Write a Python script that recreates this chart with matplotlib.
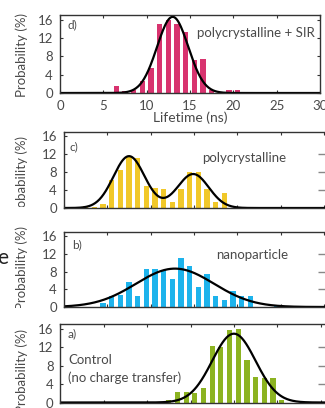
import numpy as np
import matplotlib.pyplot as plt

plt.rcParams['font.family'] = ['Lato', 'DejaVu Sans']

W, H = 325, 408          # figure size in pixels
PX_PER_NS = 8.67         # x scale shared by all panels

# d) polycrystalline + SIR
d_lifetime = [6.5, 7.5, 8.5, 9.5, 10.5, 11.5, 12.5, 13.5, 14.5, 15.5, 16.5, 17.5, 18.5, 19.5, 20.5]
d_prob = [1.5, 0.5, 0.6, 2.6, 5.5, 15.0, 16.0, 15.0, 13.2, 7.3, 7.4, 0.7, 0.3, 0.6, 0.6]
d_fit = [(16.6, 13.0, 1.8)]          # (amplitude, centre, sigma)

# c) polycrystalline
c_lifetime = [2.5, 3.5, 4.5, 5.5, 6.5, 7.5, 8.5, 9.5, 10.5, 11.5, 12.5, 13.5, 14.5, 15.5, 16.5, 17.5, 18.5]
c_prob = [0.5, 0.3, 0.9, 6.3, 8.6, 11.3, 11.1, 5.0, 4.4, 4.3, 1.3, 4.3, 8.1, 8.1, 4.3, 1.3, 3.3]
c_fit = [(11.6, 7.5, 1.8), (7.6, 14.9, 1.8)]

# b) nanoparticle
b_lifetime = [4.5, 5.5, 6.5, 7.5, 8.5, 9.5, 10.5, 11.5, 12.5, 13.5, 14.5, 15.5, 16.5,
              17.5, 18.5, 19.5, 20.5, 21.5, 22.5, 23.5, 24.5]
b_prob = [0.9, 2.4, 2.8, 5.6, 2.6, 8.6, 8.6, 8.4, 6.3, 11.2, 9.3, 4.5, 7.5,
          2.5, 1.5, 3.6, 2.5, 2.5, 0.0, 0.0, 0.5]
b_fit = [(8.7, 12.8, 4.5)]

# a) control
a_lifetime = [12.5, 13.5, 14.5, 15.5, 16.5, 17.5, 18.5, 19.5, 20.5, 21.5, 22.5, 23.5, 24.5, 25.5]
a_prob = [0.5, 2.2, 2.2, 2.0, 3.1, 12.2, 12.0, 15.8, 16.0, 9.1, 5.5, 5.4, 5.4, 0.6]
a_fit = [(14.9, 20.0, 2.5)]

yticks = [0, 4, 8, 12, 16]
xticks = [0, 5, 10, 15, 20, 25, 30]

fig = plt.figure(figsize=(W / 100, H / 100), dpi=100)


def px_box(l, t, r, b):
    return [l / W, 1 - b / H, (r - l) / W, (b - t) / H]


def ftext(x, y, s, **kw):
    kw.setdefault('fontsize', 9.5)
    kw.setdefault('color', '#4a4a4a')
    kw.setdefault('va', 'center')
    return fig.text(x / W, 1 - y / H, s, **kw)


def panel(box, lifetime, prob, fit, color, label_y, clip_y=None, last=False):
    ax = fig.add_axes(px_box(*box))
    ax.bar(lifetime, prob, width=0.6, color=color, linewidth=0)
    xs = np.linspace(0, 32, 400)
    ys = np.zeros_like(xs)
    for amp, mu, sig in fit:
        ys += amp * np.exp(-(xs - mu) ** 2 / (2 * sig ** 2))
    ax.plot(xs, ys, color='black', lw=1.6)
    ax.set_xlim(0, (box[2] - box[0]) / PX_PER_NS)
    ax.set_ylim(0, 17)
    ax.set_yticks(yticks)
    ax.set_xticks(xticks)
    ax.tick_params(direction='in', length=2.5, width=0.8, color='#333333',
                   labelsize=9.5, labelcolor='#4a4a4a', pad=5,
                   top=True, right=True, labelbottom=last)
    for s in ax.spines.values():
        s.set_color('#333333')
        s.set_linewidth(1.0)
    # y label placed as a figure text so that it can be clipped like the original crop
    lab = ftext(22, label_y, 'Probability (%)', fontsize=9.5, rotation=90, ha='center')
    if clip_y is not None:
        clip_ax = fig.add_axes([0, 1 - clip_y / H, 1, clip_y / H])
        clip_ax.set_axis_off()
        lab.set_clip_on(True)
        lab.set_clip_box(clip_ax.bbox)
    if last:
        ax.set_xlabel('Lifetime (ns)', fontsize=10, color='#4a4a4a', labelpad=0)
    return ax


ax_d = panel((60, 15, 320, 93), d_lifetime, d_prob, d_fit, '#d8336f', 55, last=True)
ax_c = panel((64, 132, 330, 208), c_lifetime, c_prob, c_fit, '#f1c829', 178, clip_y=207)
ax_b = panel((64, 232, 330, 307), b_lifetime, b_prob, b_fit, '#1db3ec', 268, clip_y=308)
ax_a = panel((60.5, 324, 330, 402.5), a_lifetime, a_prob, a_fit, '#8cb321', 371)

# faint ticks of the neighbouring panel on the right
for ax in (ax_c, ax_b, ax_a):
    tw = ax.twinx()
    tw.set_ylim(0, 17)
    tw.set_yticks([4, 8, 12])
    tw.tick_params(direction='in', length=9, width=1.0, color='#888888', labelright=False)
    for s in tw.spines.values():
        s.set_visible(False)

ftext(68, 25, 'd)', fontsize=8.5)
ftext(315, 33, 'polycrystalline + SIR', ha='right')
ftext(70, 147, 'c)', fontsize=8.5)
ftext(202, 158, 'polycrystalline')
ftext(72, 245, 'b)', fontsize=8.5)
ftext(216, 255, 'nanoparticle')
ftext(68, 334, 'a)', fontsize=8.5)
ftext(68, 360, 'Control')
ftext(68, 378, '(no charge transfer)')
ftext(-3, 258, 'e', fontsize=15, ha='left', color='#222222')

plt.savefig('out.png', dpi=100)
